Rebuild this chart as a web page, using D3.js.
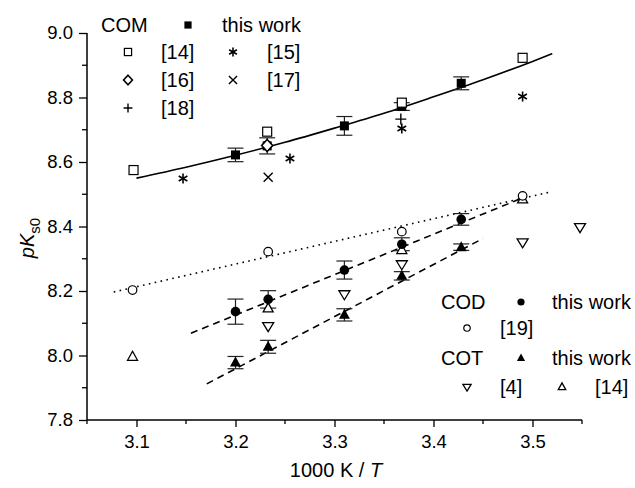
<!DOCTYPE html>
<html><head><meta charset="utf-8">
<script src="https://cdn.jsdelivr.net/npm/d3@7"></script>
<style>body{margin:0;background:#fff}svg{display:block}text{font-family:"Liberation Sans",Arial,sans-serif;fill:#000}</style>
</head><body><svg id="c" width="635" height="488"></svg>
<script>
// ---- data ----
const xMajorTicks = [3.1, 3.2, 3.3, 3.4, 3.5];
const yMajorTicks = [7.8, 8.0, 8.2, 8.4, 8.6, 8.8, 9.0];
const comThisWork = [[3.200, 8.622, 0.021], [3.232, 8.650, 0.025], [3.310, 8.712, 0.029], [3.368, 8.772, 0.012], [3.428, 8.844, 0.020]];
const com14 = [[3.097, 8.575], [3.232, 8.694], [3.368, 8.784], [3.490, 8.923]];
const com15 = [[3.147, 8.549], [3.255, 8.611], [3.368, 8.704], [3.490, 8.803]];
const com16 = [[3.232, 8.651]];
const com17 = [[3.233, 8.553]];
const com18 = [[3.367, 8.733]];
const comFit = [[3.100, 8.550], [3.150, 8.584], [3.200, 8.621], [3.250, 8.661], [3.300, 8.705], [3.350, 8.751], [3.400, 8.802], [3.450, 8.855], [3.500, 8.912], [3.520, 8.936]];
const codThisWork = [[3.200, 8.136, 0.039], [3.233, 8.174, 0.027], [3.310, 8.265, 0.028], [3.368, 8.345, 0.020], [3.428, 8.422, 0.018]];
const cod19 = [[3.096, 8.203], [3.233, 8.322], [3.368, 8.384], [3.490, 8.495]];
const codFit19 = [[3.077, 8.197], [3.518, 8.507]];
const codFit = [[3.155, 8.069], [3.487, 8.485]];
const cotThisWork = [[3.200, 7.978, 0.019], [3.233, 8.027, 0.020], [3.310, 8.126, 0.019], [3.368, 8.247, 0.013], [3.428, 8.336, 0.010]];
const cot4 = [[3.233, 8.091], [3.310, 8.190], [3.368, 8.283], [3.490, 8.351], [3.548, 8.398]];
const cot14 = [[3.096, 7.996], [3.233, 8.146], [3.368, 8.327], [3.490, 8.484]];
const cotFit = [[3.171, 7.912], [3.450, 8.363]];

const svg = d3.select("#c");
const x = d3.scaleLinear().domain([3.05, 3.55]).range([87, 582]);
const y = d3.scaleLinear().domain([7.8, 9.0]).range([420, 33]);

// axes
const xAxis = d3.axisBottom(x).tickValues(xMajorTicks).tickFormat(d3.format(".1f")).tickSize(7).tickPadding(8);
const gx = svg.append("g").attr("transform", "translate(0,420)").call(xAxis);
const xMinor = d3.range(3.05, 3.56, 0.1);
gx.selectAll(".minor").data(xMinor).enter().append("line").attr("class","minor")
  .attr("x1", d => x(d)).attr("x2", d => x(d)).attr("y1", 0).attr("y2", 4).attr("stroke", "#000").attr("stroke-width", 1.3);
const yAxis = d3.axisLeft(y).tickValues(yMajorTicks).tickFormat(d3.format(".1f")).tickSize(8).tickPadding(6);
const gy = svg.append("g").attr("transform", "translate(87,0)").call(yAxis);
const yMinor = d3.range(7.9, 9.0, 0.2);
gy.selectAll(".minor").data(yMinor).enter().append("line").attr("class","minor")
  .attr("x1", 0).attr("x2", -5).attr("y1", d => y(d)).attr("y2", d => y(d)).attr("stroke", "#000").attr("stroke-width", 1.3);
[gx, gy].forEach(g => {
  g.select(".domain").attr("stroke-width", 1.5).attr("d", null);
  g.selectAll(".tick line").attr("stroke-width", 1.3);
  g.selectAll(".tick text").style("font-size", "18.5px").style("font-family", '"Liberation Sans", Arial, sans-serif');
});
gx.select(".domain").attr("d", `M${x.range()[0]},0H${x.range()[1]}`);
gy.select(".domain").attr("d", `M0,${y.range()[0]}V${y.range()[1]}`);

// axis titles
const xt = svg.append("text").attr("x", 336).attr("y", 477).attr("text-anchor", "middle").style("font-size", "20px");
xt.append("tspan").text("1000 K / ");
xt.append("tspan").style("font-style", "italic").text("T");
const yt = svg.append("text").attr("transform", "translate(34,238) rotate(-90)").attr("text-anchor", "middle").style("font-size", "20px");
yt.append("tspan").style("font-style", "italic").text("pK");
yt.append("tspan").attr("dy", 6).style("font-size", "15px").text("s0");

// lines
const line = d3.line().x(d => x(d[0])).y(d => y(d[1]));
svg.append("path").datum(comFit).attr("d", line.curve(d3.curveMonotoneX)).attr("fill", "none").attr("stroke", "#000").attr("stroke-width", 1.6);
const lineS = d3.line().x(d => x(d[0])).y(d => y(d[1]));
svg.append("path").datum(codFit19).attr("d", lineS).attr("fill", "none").attr("stroke", "#000").attr("stroke-width", 1.6).attr("stroke-dasharray", "1.6,4.4");
svg.append("path").datum(codFit).attr("d", lineS).attr("fill", "none").attr("stroke", "#000").attr("stroke-width", 1.6).attr("stroke-dasharray", "7,5");
svg.append("path").datum(cotFit).attr("d", lineS).attr("fill", "none").attr("stroke", "#000").attr("stroke-width", 1.6).attr("stroke-dasharray", "7,5");

// marker drawing
function marker(g, type, cx, cy, s) {
  const k = s || 1;
  switch (type) {
    case "fsq": g.append("rect").attr("x", cx-4.5*k).attr("y", cy-4.5*k).attr("width", 9*k).attr("height", 9*k).attr("fill", "#000"); break;
    case "osq": g.append("rect").attr("x", cx-4.5*k).attr("y", cy-4.5*k).attr("width", 9*k).attr("height", 9*k).attr("fill", "#fff").attr("stroke", "#000").attr("stroke-width", 1.2); break;
    case "fci": g.append("circle").attr("cx", cx).attr("cy", cy).attr("r", 4.8*k).attr("fill", "#000"); break;
    case "oci": g.append("circle").attr("cx", cx).attr("cy", cy).attr("r", 4.3*k).attr("fill", "#fff").attr("stroke", "#000").attr("stroke-width", 1.2); break;
    case "ftri": g.append("path").attr("d", `M${cx},${cy-6*k}L${cx+5.5*k},${cy+4*k}L${cx-5.5*k},${cy+4*k}Z`).attr("fill", "#000"); break;
    case "otri": g.append("path").attr("d", `M${cx},${cy-5.5*k}L${cx+5*k},${cy+3.5*k}L${cx-5*k},${cy+3.5*k}Z`).attr("fill", "#fff").attr("stroke", "#000").attr("stroke-width", 1.3); break;
    case "dtri": g.append("path").attr("d", `M${cx},${cy+5.5*k}L${cx+5.5*k},${cy-3.5*k}L${cx-5.5*k},${cy-3.5*k}Z`).attr("fill", "#fff").attr("stroke", "#000").attr("stroke-width", 1.3); break;
    case "dia": g.append("path").attr("d", `M${cx},${cy-6*k}L${cx+5.5*k},${cy}L${cx},${cy+6*k}L${cx-5.5*k},${cy}Z`).attr("fill", "#fff").attr("stroke", "#000").attr("stroke-width", 1.6); break;
    case "star": {
      const r = 5*k;
      [90, 30, -30].forEach(a => {
        const t = a*Math.PI/180;
        g.append("line").attr("x1", cx-r*Math.cos(t)).attr("y1", cy-r*Math.sin(t)).attr("x2", cx+r*Math.cos(t)).attr("y2", cy+r*Math.sin(t)).attr("stroke", "#000").attr("stroke-width", 1.6);
      });
      break; }
    case "x": { const r = 4.5*k;
      g.append("path").attr("d", `M${cx-r},${cy-r}L${cx+r},${cy+r}M${cx-r},${cy+r}L${cx+r},${cy-r}`).attr("stroke", "#000").attr("stroke-width", 1.4); break; }
    case "plus": { const r = 5.5*k;
      g.append("path").attr("d", `M${cx-r},${cy}L${cx+r},${cy}M${cx},${cy-r}L${cx},${cy+r}`).attr("stroke", "#000").attr("stroke-width", 1.4); break; }
  }
}
function errbars(data) {
  const g = svg.append("g").attr("stroke", "#222").attr("stroke-width", 1.2);
  data.forEach(d => {
    const xx = x(d[0]), y1 = y(d[1] + d[2]), y2 = y(d[1] - d[2]);
    g.append("line").attr("x1", xx).attr("x2", xx).attr("y1", y1).attr("y2", y2);
    g.append("line").attr("x1", xx-8).attr("x2", xx+8).attr("y1", y1).attr("y2", y1);
    g.append("line").attr("x1", xx-8).attr("x2", xx+8).attr("y1", y2).attr("y2", y2);
  });
}
function points(data, type) {
  const g = svg.append("g");
  data.forEach(d => marker(g, type, x(d[0]), y(d[1])));
}

errbars(comThisWork); errbars(codThisWork); errbars(cotThisWork);
points(comThisWork, "fsq");
points(com14, "osq");
points(com15, "star");
points(com16, "dia");
points(com17, "x");
points(com18, "plus");
points(cotThisWork, "ftri");
points(cot14, "otri");
points(codThisWork, "fci");
points(cot4, "dtri");
points(cod19, "oci");

// legends
const lg = svg.append("g").style("font-size", "20px");
function ltext(tx, ty, s) { lg.append("text").attr("x", tx).attr("y", ty + 7).text(s); }
ltext(101, 25, "COM"); marker(lg, "fsq", 188, 25, 0.8); ltext(222, 25, "this work");
marker(lg, "osq", 128, 52, 0.8); ltext(161, 52, "[14]"); marker(lg, "star", 233, 52, 0.9); ltext(267, 52, "[15]");
marker(lg, "dia", 128, 80, 0.8); ltext(161, 80, "[16]"); marker(lg, "x", 233, 80, 0.9); ltext(267, 80, "[17]");
marker(lg, "plus", 128, 108, 0.8); ltext(161, 108, "[18]");
ltext(441, 302, "COD"); marker(lg, "fci", 521, 302, 0.75); ltext(552, 302, "this work");
marker(lg, "oci", 467, 328, 0.75); ltext(500, 328, "[19]");
ltext(441, 358, "COT"); marker(lg, "ftri", 521, 358, 0.75); ltext(552, 358, "this work");
marker(lg, "dtri", 467, 387, 0.75); ltext(500, 387, "[4]"); marker(lg, "otri", 562, 387, 0.75); ltext(595, 387, "[14]");
</script></body></html>
